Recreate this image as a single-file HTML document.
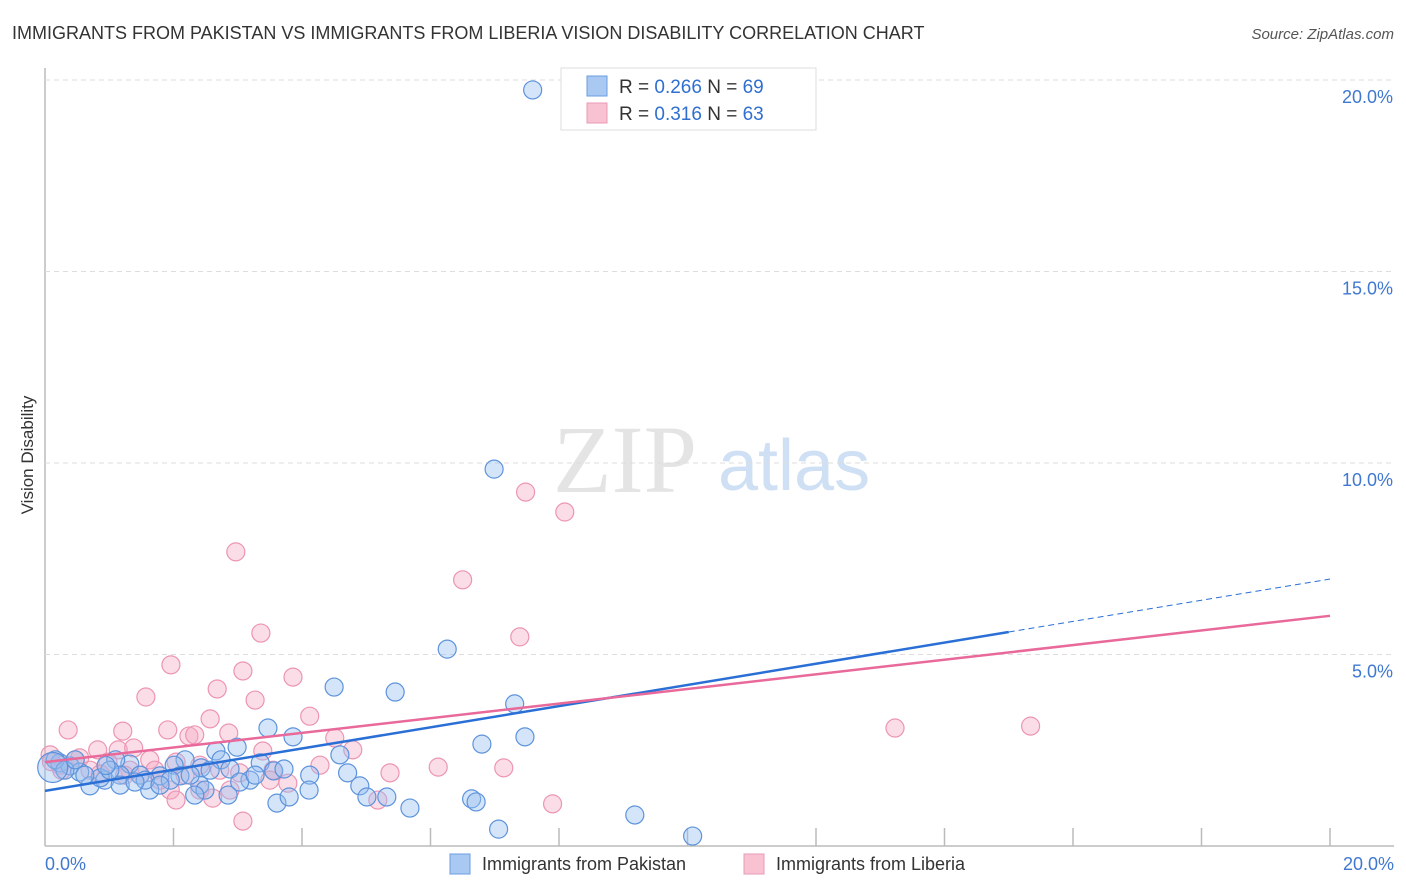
<!DOCTYPE html>
<html><head><meta charset="utf-8"><style>
body{margin:0;background:#fff;font-family:"Liberation Sans",sans-serif}
svg{display:block}
</style></head><body>
<svg id="chart" width="1406" height="892">
<text x="12" y="39" font-size="18" fill="#333">IMMIGRANTS FROM PAKISTAN VS IMMIGRANTS FROM LIBERIA VISION DISABILITY CORRELATION CHART</text>
<text x="1394" y="39" font-size="15" fill="#555" font-style="italic" text-anchor="end">Source: ZipAtlas.com</text>
<text transform="translate(33,455) rotate(-90)" font-size="17" fill="#333" text-anchor="middle">Vision Disability</text>
<g><text x="553" y="492" font-family="Liberation Serif,serif" font-size="96" fill="#e4e4e4">ZIP</text><text x="718" y="490" font-size="72" fill="#cfe0f4">atlas</text></g>
<g id="grid"></g><g id="marks"></g><g id="lines"></g>
<g>
<rect x="561" y="68" width="255" height="62" fill="#fff" stroke="#ddd"/>
<rect x="587" y="76" width="20" height="20" fill="#a9c8f2" stroke="#6a9ee0"/>
<rect x="587" y="103" width="20" height="20" fill="#f8c2d3" stroke="#e99ab4"/>
<text x="619" y="93" font-size="19" fill="#333">R = <tspan fill="#2f6fd0">0.266</tspan>   N = <tspan fill="#2f6fd0">69</tspan></text>
<text x="619" y="120" font-size="19" fill="#333">R =  <tspan fill="#2f6fd0">0.316</tspan>   N = <tspan fill="#2f6fd0">63</tspan></text>
</g>
<g>
<rect x="450" y="854" width="20" height="20" fill="#a9c8f2" stroke="#6a9ee0"/>
<text x="482" y="870" font-size="18" fill="#333">Immigrants from Pakistan</text>
<rect x="744" y="854" width="20" height="20" fill="#f8c2d3" stroke="#e99ab4"/>
<text x="776" y="870" font-size="18" fill="#333">Immigrants from Liberia</text>
</g>
</svg>
<script>
const yTicks=[5,10,15,20];
const yTickLabels=["5.0%","10.0%","15.0%","20.0%"];
const xTickLabels=["0.0%","20.0%"];
const blueX=[7.59,6.99,6.26,4.50,5.45,7.31,3.47,3.86,6.80,7.47,2.99,2.66,2.18,2.01,2.74,2.43,1.32,1.10,0.23,0.39,0.54,0.70,0.93,1.17,1.48,1.79,2.10,2.41,2.88,3.35,3.56,3.72,4.12,4.71,4.90,5.01,5.32,5.68,6.64,6.71,7.06,9.18,10.08,3.61,3.80,4.11,3.19,3.03,2.85,2.49,2.33,1.63,1.17,0.86,0.16,0.31,0.62,1.56,1.95,2.57,3.27,4.59,1.79,2.26,1.01,0.47,1.40,0.12,0.95];
const blueY=[19.74,9.84,5.14,4.15,4.02,3.71,3.08,2.85,2.66,2.85,2.58,2.48,2.25,2.11,2.25,2.04,2.14,2.25,2.17,2.09,1.93,1.57,1.72,1.85,1.85,1.83,1.83,1.59,2.01,2.17,1.96,2.01,1.85,1.91,1.57,1.28,1.28,0.99,1.23,1.15,0.44,0.81,0.26,1.12,1.28,1.46,1.72,1.67,1.33,1.46,1.33,1.46,1.59,1.78,2.25,1.98,1.85,1.72,1.72,1.98,1.85,2.38,1.59,1.85,1.98,2.25,1.67,2.05,2.1];
const pinkX=[7.48,8.09,2.97,6.50,3.36,7.39,1.96,3.08,3.86,2.68,1.57,3.27,4.12,2.57,0.36,1.21,1.91,2.24,2.33,2.86,4.51,0.82,1.14,1.38,3.39,4.79,6.12,7.14,5.37,7.90,3.08,13.23,15.34,0.98,0.54,1.63,2.04,2.41,2.72,1.71,0.70,0.23,0.08,1.32,1.95,2.04,2.41,3.55,3.78,4.28,5.18,3.03,2.61,1.48,0.86,3.50,2.18,2.88,0.26,0.47,1.79,1.24,0.1];
const pinkY=[9.24,8.72,7.68,6.95,5.56,5.46,4.73,4.57,4.41,4.10,3.89,3.81,3.39,3.32,3.03,3.00,3.03,2.87,2.90,2.95,2.82,2.51,2.51,2.56,2.48,2.51,2.06,2.04,1.91,1.10,0.65,3.08,3.13,2.19,2.30,2.25,2.19,2.11,1.98,1.98,1.98,2.11,2.38,1.98,1.46,1.20,1.46,1.98,1.64,2.11,1.20,1.91,1.25,1.85,1.88,1.72,1.85,1.46,1.98,2.25,1.72,1.85,2.2];
const blueTrend=[1.44,6.97], blueSolidEnd=15.0;
const pinkTrend=[2.19,6.01];
const X0=45,X1=1330,Y0=846,Y20=80;
const sx=v=>X0+(v/20)*(X1-X0);
const sy=v=>Y0-(v/20)*(Y0-Y20);
const NS="http://www.w3.org/2000/svg";
function mk(tag,attrs,parent){const e=document.createElementNS(NS,tag);for(const k in attrs)e.setAttribute(k,attrs[k]);parent.appendChild(e);return e;}
const grid=document.getElementById('grid');
let ax=mk('line',{x1:X0,y1:68,x2:X0,y2:Y0,stroke:'#bbb','stroke-width':1.5},grid);


let bx=mk('line',{x1:X0,y1:Y0,x2:1394,y2:Y0,stroke:'#bbb','stroke-width':1.5},grid);


yTicks.forEach((t,i)=>{
 const g=mk('line',{x1:X0,y1:sy(t),x2:1394,y2:sy(t),stroke:'#ddd','stroke-dasharray':'5,4'},grid);
 
 
 const tx=mk('text',{x:1393,y:sy(t)+23,'font-size':18,fill:'#3f78d0','text-anchor':'end'},grid);
 tx.textContent=yTickLabels[i];
 
 
});
for(let i=1;i<=10;i++){const x=X0+i*(X1-X0)/10;
 const tk=mk('line',{x1:x,y1:828,x2:x,y2:Y0,stroke:'#bbb','stroke-width':1.5},grid);
 
 }
xTickLabels.forEach((l,i)=>{
 const tx=mk('text',{x:i?1394:45,y:870,'font-size':18,fill:'#3f78d0','text-anchor':i?'end':'start'},grid);
 tx.textContent=l;
 
 
});
const marks=document.getElementById('marks');
pinkX.forEach((x,i)=>{
 const c=mk('circle',{cx:sx(x),cy:sy(pinkY[i]),r:9,fill:'rgba(245,170,195,0.4)',stroke:'#ec95b3','stroke-width':1.2},marks);
 
 
});
blueX.forEach((x,i)=>{
 const c=mk('circle',{cx:sx(x),cy:sy(blueY[i]),r:i==blueX.length-2?15:9,fill:'rgba(150,190,240,0.4)',stroke:'#5d93dc','stroke-width':1.2},marks);
 
 
});
const lines=document.getElementById('lines');
const by=x=>blueTrend[0]+(blueTrend[1]-blueTrend[0])*x/20;
let l1=mk('line',{x1:sx(0),y1:sy(by(0)),x2:sx(blueSolidEnd),y2:sy(by(blueSolidEnd)),stroke:'#2a6fd6','stroke-width':2.5},lines);


let l2=mk('line',{x1:sx(blueSolidEnd),y1:sy(by(blueSolidEnd)),x2:sx(20),y2:sy(by(20)),stroke:'#2a6fd6','stroke-width':1,'stroke-dasharray':'6,4'},lines);


let l3=mk('line',{x1:sx(0),y1:sy(pinkTrend[0]),x2:sx(20),y2:sy(pinkTrend[1]),stroke:'#e8699a','stroke-width':2.5},lines);


</script>
</body></html>
